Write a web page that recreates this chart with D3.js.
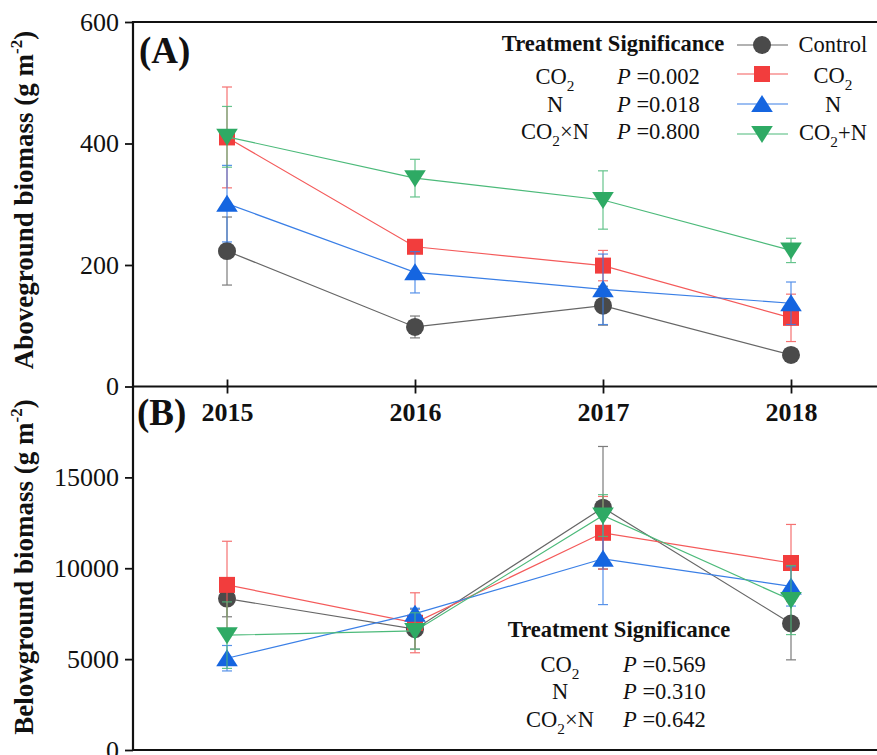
<!DOCTYPE html>
<html><head><meta charset="utf-8">
<script src="https://cdn.jsdelivr.net/npm/d3@7"></script>
<style>body{margin:0;background:#fff}svg{display:block}text{font-family:"Liberation Serif","Times New Roman",serif;fill:#111}</style>
</head><body><svg id="c" width="877" height="755"></svg>
<script>
// ---------- data ----------
const years = [2015, 2016, 2017, 2018];
const seriesNames = ["Control", "CO2", "N", "CO2+N"];
const seriesColors = ["#4a4a4a", "#f23d3d", "#1565e0", "#2eaa64"];
const seriesLineColors = ["#666666", "#f45a5a", "#3a7fe6", "#4cba7a"];
const seriesSymbols = ["circle", "square", "triUp", "triDown"];

// Aboveground biomass (g m-2): means and SE
const agControl = [223, 98, 133, 52];
const agControlSE = [56, 18, 32, 5];
const agCO2 = [410, 230, 199, 113];
const agCO2SE = [83, 9, 25, 39];
const agN = [301, 188, 160, 137];
const agNSE = [63, 34, 58, 35];
const agCO2N = [411, 343, 307, 224];
const agCO2NSE = [50, 31, 48, 20];

// Belowground biomass (g m-2): means and SE
const bgControl = [8330, 6650, 13330, 6960];
const bgControlSE = [1000, 1100, 3370, 2000];
const bgCO2 = [9085, 7000, 11950, 10290];
const bgCO2SE = [2400, 1650, 2000, 2120];
const bgN = [5050, 7500, 10520, 9000];
const bgNSE = [700, 300, 2520, 1080];
const bgCO2N = [6319, 6550, 12900, 8250];
const bgCO2NSE = [1830, 1000, 1150, 1900];

const agTicks = [0, 200, 400, 600];
const bgTicks = [0, 5000, 10000, 15000];

const sigTop = [["CO2", "0.002"], ["N", "0.018"], ["CO2×N", "0.800"]];
const sigBottom = [["CO2", "0.569"], ["N", "0.310"], ["CO2×N", "0.642"]];

// ---------- layout ----------
const svg = d3.select("#c");
const X0 = 133, X1 = 885;
const x = d3.scaleLinear().domain([2014.5, 2018.5]).range([X0, X1]);
const yA = d3.scaleLinear().domain([0, 600]).range([386.5, 22]);
const yB = d3.scaleLinear().domain([0, 20000]).range([750, 386.5]);

function symbolPath(t) {
  if (t === "circle") return "M9,0A9,9 0 1,1 -9,0A9,9 0 1,1 9,0Z";
  if (t === "square") return "M-8,-8H8V8H-8Z";
  if (t === "triUp") return "M0,-9L10.8,8L-10.8,8Z";
  return "M0,9L10.8,-8L-10.8,-8Z";
}

function addSub(sel, label, size) {
  const parts = label.split("2");
  if (parts.length === 1) { sel.text(label); return; }
  sel.append("tspan").text(parts[0]);
  sel.append("tspan").attr("font-size", size * 0.68).attr("dy", size * 0.3).text("2");
  sel.append("tspan").attr("dy", -size * 0.3).text(parts.slice(1).join("2"));
}

function drawPanel(y, means, ses) {
  const g = svg.append("g");
  means.forEach((m, i) => {
    const se = ses[i];
    const col = seriesColors[i], lc = seriesLineColors[i];
    const pts = years.map((yr, k) => ({ yr, v: m[k], e: se[k] }));
    const eb = g.append("g").attr("stroke", lc).attr("stroke-width", 1.2).attr("opacity", 0.85);
    pts.forEach(p => {
      eb.append("line").attr("x1", x(p.yr)).attr("x2", x(p.yr)).attr("y1", y(p.v + p.e)).attr("y2", y(p.v - p.e));
      eb.append("line").attr("x1", x(p.yr) - 5).attr("x2", x(p.yr) + 5).attr("y1", y(p.v + p.e)).attr("y2", y(p.v + p.e));
      eb.append("line").attr("x1", x(p.yr) - 5).attr("x2", x(p.yr) + 5).attr("y1", y(p.v - p.e)).attr("y2", y(p.v - p.e));
    });
    g.append("path").datum(pts).attr("fill", "none").attr("stroke", lc).attr("stroke-width", 1.2)
      .attr("d", d3.line().x(p => x(p.yr)).y(p => y(p.v)));
    g.selectAll(null).data(pts).enter().append("path")
      .attr("d", symbolPath(seriesSymbols[i]))
      .attr("transform", p => `translate(${x(p.yr)},${y(p.v)})`)
      .attr("fill", col);
  });
}

// ---------- axes ----------
const axA = svg.append("g").attr("transform", `translate(${X0},0)`)
  .call(d3.axisLeft(yA).tickValues(agTicks).tickSize(8).tickPadding(6));
const axB = svg.append("g").attr("transform", `translate(${X0},0)`)
  .call(d3.axisLeft(yB).tickValues(bgTicks).tickSize(8).tickPadding(6).tickFormat(d3.format("d")));
[axA, axB].forEach(a => {
  a.select(".domain").remove();
  a.selectAll(".tick line").attr("stroke", "#111").attr("stroke-width", 1.8);
  a.selectAll(".tick text").attr("font-size", 26).attr("font-family", "Liberation Serif").attr("fill", "#111");
});
const axX = svg.append("g").attr("transform", `translate(0,${yA(0)})`)
  .call(d3.axisBottom(x).tickValues(years).tickSize(7).tickFormat(d3.format("d")));
axX.select(".domain").remove();
axX.selectAll(".tick line").attr("y1", -7).attr("y2", 7).attr("stroke", "#111").attr("stroke-width", 1.8);
axX.selectAll(".tick text").attr("font-size", 26).attr("font-weight", "bold").attr("font-family", "Liberation Serif")
  .attr("fill", "#111").attr("y", 34.5).attr("dy", 0);

// frame lines
const frame = svg.append("g").attr("stroke", "#111").attr("stroke-width", 2.2);
frame.append("line").attr("x1", X0).attr("x2", 877).attr("y1", yA(600)).attr("y2", yA(600));
frame.append("line").attr("x1", X0).attr("x2", 877).attr("y1", yA(0)).attr("y2", yA(0));
frame.append("line").attr("x1", X0).attr("x2", 877).attr("y1", yB(0)).attr("y2", yB(0));
frame.append("line").attr("x1", X0).attr("x2", X0).attr("y1", yA(600) - 1).attr("y2", yB(0) + 1);

// ---------- data marks ----------
drawPanel(yA, [agControl, agCO2, agN, agCO2N], [agControlSE, agCO2SE, agNSE, agCO2NSE]);
drawPanel(yB, [bgControl, bgCO2, bgN, bgCO2N], [bgControlSE, bgCO2SE, bgNSE, bgCO2NSE]);

// ---------- labels ----------
function yLabel(text, cy) {
  const t = svg.append("text").attr("transform", `translate(33,${cy}) rotate(-90)`)
    .attr("text-anchor", "middle").attr("font-size", 27).attr("font-weight", "bold");
  t.append("tspan").text(text + " (g m");
  t.append("tspan").attr("font-size", 17).attr("dy", -11).text("-2");
  t.append("tspan").attr("dy", 11).text(")");
}
yLabel("Aboveground biomass", 200);
yLabel("Belowground biomass", 567);

svg.append("text").attr("x", 139).attr("y", 63).attr("font-size", 37).attr("font-weight", "bold").text("(A)");
svg.append("text").attr("x", 137).attr("y", 425).attr("font-size", 37).attr("font-weight", "bold").text("(B)");

function sigTable(rows, titleX, titleY, colX, pX, rowYs) {
  svg.append("text").attr("x", titleX).attr("y", titleY).attr("text-anchor", "middle")
    .attr("font-size", 22.5).attr("font-weight", "bold").text("Treatment Significance");
  rows.forEach((r, i) => {
    const t = svg.append("text").attr("x", colX).attr("y", rowYs[i]).attr("text-anchor", "middle").attr("font-size", 22.5);
    addSub(t, r[0], 22.5);
    const p = svg.append("text").attr("x", pX).attr("y", rowYs[i]).attr("font-size", 22.5);
    p.append("tspan").attr("font-style", "italic").text("P");
    p.append("tspan").text(" =" + r[1]);
  });
}
sigTable(sigTop, 613, 51, 555, 617, [84, 112, 139]);
sigTable(sigBottom, 619, 637, 560, 623, [672, 699, 727]);

// legend
const legY = [45, 74, 104, 134];
const legTextY = [52, 83, 112, 140];
seriesNames.forEach((n, i) => {
  svg.append("line").attr("x1", 737).attr("x2", 788).attr("y1", legY[i]).attr("y2", legY[i])
    .attr("stroke", seriesLineColors[i]).attr("stroke-width", 1.2);
  svg.append("path").attr("d", symbolPath(seriesSymbols[i])).attr("transform", `translate(762,${legY[i]})`)
    .attr("fill", seriesColors[i]);
  const t = svg.append("text").attr("x", 833).attr("y", legTextY[i]).attr("text-anchor", "middle").attr("font-size", 22.5);
  addSub(t, n, 22.5);
});
</script></body></html>
